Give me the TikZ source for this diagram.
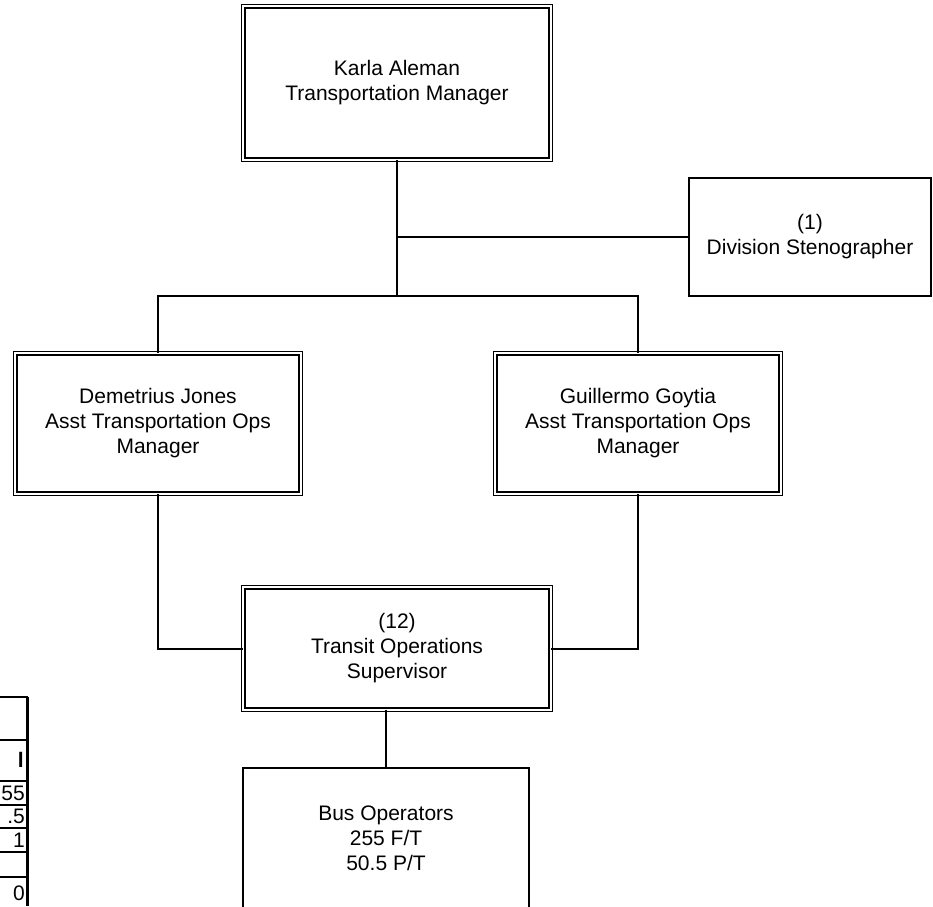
\documentclass[tikz,border=0pt]{standalone}
\usepackage{fontspec}
\setmainfont{Liberation Sans}
\usepackage{tikz}
\usetikzlibrary{positioning}
\newcommand{\orgfont}{\fontsize{21}{25}\selectfont}
\tikzset{
  dblbox/.style={
    rectangle, draw, double, double distance=2pt, line width=1.4pt,
    align=center, font=\orgfont, inner sep=0pt
  },
  plainbox/.style={
    rectangle, draw, line width=2pt,
    align=center, font=\orgfont, inner sep=0pt
  },
  orgline/.style={line width=2pt},
  cellline/.style={line width=2pt},
  celltext/.style={anchor=east, inner sep=0pt, font=\orgfont}
}

\begin{document}
\begin{tikzpicture}[x=1pt, y=-1pt]

  \clip (0,0) rectangle (933,906);

  %% --- Manager ---
  \node[dblbox, minimum width=307.2pt, minimum height=153.2pt] (mgr) at (397,83)
    {Karla Aleman\\Transportation Manager};

  %% --- Stenographer ---
  \node[plainbox, minimum width=242pt, minimum height=118pt] (steno) at (810,237)
    {(1)\\Division Stenographer};

  %% --- Assistants ---
  \node[dblbox, minimum width=285.2pt, minimum height=140.2pt] (lasst) at (158,423.5)
    {Demetrius Jones\\Asst Transportation Ops\\Manager};
  \node[dblbox, minimum width=285.2pt, minimum height=140.2pt] (rasst) at (638,423.5)
    {Guillermo Goytia\\Asst Transportation Ops\\Manager};

  %% --- Supervisor ---
  \node[dblbox, minimum width=307.2pt, minimum height=122.2pt] (sup) at (397,648.5)
    {(12)\\Transit Operations\\Supervisor};

  %% --- Bus operators ---
  \node[plainbox, minimum width=286pt, minimum height=140pt] (bus) at (386,838)
    {Bus Operators\\255 F/T\\50.5 P/T};

  %% --- Connectors ---
  \coordinate (split) at (397,296);
  \draw[orgline] (mgr.south) -- (split);
  \draw[orgline] (mgr.south |- steno.west) -- (steno.west);
  \draw[orgline] (lasst.north) |- (split) -| (rasst.north);
  \draw[orgline] (lasst.south) |- (sup.west);
  \draw[orgline] (rasst.south) |- (sup.east);
  \draw[orgline] (bus.north |- sup.south) -- (bus.north);

  %% --- Table edge ---
  \foreach \y in {697,740,781,805,828,852,877}
    \draw[cellline] (0,\y) -- (28,\y);
  \draw[line width=3pt] (27,697) -- (27,906);
  \node[celltext, font=\orgfont\bfseries] (ctot) at (24,760) {l};
  \node[celltext] (cft) at (25,793) {55};
  \node[celltext] (cpt) at (25,816) {.5};
  \node[celltext] (cone) at (25,840) {1};
  \node[celltext] (czero) at (25,893) {0};

\end{tikzpicture}
\end{document}
